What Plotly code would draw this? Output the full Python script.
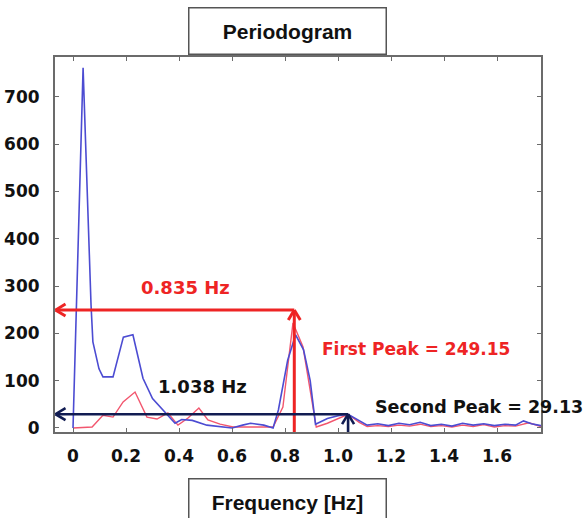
import plotly.graph_objects as go

# ---- data ----
blue_freq = [0.0, 0.038, 0.068, 0.075, 0.098, 0.113, 0.151, 0.19, 0.226, 0.264, 0.30, 0.34, 0.385,
             0.41, 0.45, 0.505, 0.55, 0.60, 0.64, 0.67, 0.72, 0.755, 0.775, 0.81, 0.84, 0.87,
             0.895, 0.915, 0.96, 1.0, 1.038, 1.07, 1.11, 1.15, 1.19, 1.23, 1.27, 1.31, 1.35,
             1.39, 1.43, 1.47, 1.51, 1.55, 1.59, 1.63, 1.67, 1.70, 1.73, 1.766]
blue_power = [0, 761, 260, 182, 125, 108, 108, 192, 197, 105, 62, 38, 10,
              18, 16, 6, 3, 0, 6, 10, 6, 0, 38, 143, 197, 165,
              100, 8, 20, 26, 29, 18, 6, 9, 5, 10, 7, 12, 5, 8, 4, 10, 6, 9, 5, 8, 6, 15, 9, 5]

red_freq = [0.0, 0.072, 0.113, 0.151, 0.189, 0.234, 0.279, 0.317, 0.358, 0.396, 0.434, 0.475,
            0.509, 0.555, 0.604, 0.65, 0.70, 0.755, 0.792, 0.83, 0.868, 0.89, 0.918,
            0.96, 1.0, 1.038, 1.08, 1.11, 1.15, 1.19, 1.23, 1.27, 1.31, 1.35, 1.39, 1.43,
            1.47, 1.51, 1.55, 1.59, 1.63, 1.67, 1.72, 1.766]
red_power = [0, 2, 27, 23, 55, 76, 23, 19, 32, 6, 21, 42,
             17, 8, 2, 2, 2, 2, 44, 222, 171, 100, 2,
             10, 20, 29, 12, 3, 5, 3, 6, 4, 8, 3, 5, 2, 6, 3, 7, 2, 5, 4, 11, 3]

first_peak_freq = 0.835
first_peak_value = 249.15
second_peak_freq = 1.038
second_peak_value = 29.13

x_tickvals = [0, 0.2, 0.4, 0.6, 0.8, 1.0, 1.2, 1.4, 1.6]
x_ticktext = ["0", "0.2", "0.4", "0.6", "0.8", "1.0", "1.2", "1.4", "1.6"]
y_tickvals = [0, 100, 200, 300, 400, 500, 600, 700]

# ---- layout geometry ----
W, H = 583, 518
ML, MR, MT, MB = 55, 42, 57, 86
XR = [-0.068, 1.766]
YR = [-8.5, 784]
pw, ph = W - ML - MR, H - MT - MB
dx = (XR[1] - XR[0]) / pw   # data per pixel
dy = (YR[1] - YR[0]) / ph

RED = "#ee2424"
NAVY = "#111c52"
BLUE_LINE = "#4c4cd2"
RED_LINE = "#f2566e"
FRAME = "#6b6b6b"
TICKFONT = dict(family="DejaVu Sans", size=17, color="#111111", weight="bold")
ANNFONT = "DejaVu Sans"

fig = go.Figure()
fig.add_trace(go.Scatter(x=red_freq, y=red_power, mode="lines",
                         line=dict(color=RED_LINE, width=1.4), showlegend=False))
fig.add_trace(go.Scatter(x=blue_freq, y=blue_power, mode="lines",
                         line=dict(color=BLUE_LINE, width=1.6), showlegend=False))

shapes = []


def seg(x0, y0, x1, y1, color, width):
    shapes.append(dict(type="line", xref="x", yref="y", x0=x0, y0=y0, x1=x1, y1=y1,
                       line=dict(color=color, width=width), layer="above"))


def left_arrow(xend, y, color, width):
    tip = XR[0] + 0.5 * dx
    seg(tip, y, xend, y, color, width)
    seg(tip, y, tip + 10 * dx, y + 6 * dy, color, width)
    seg(tip, y, tip + 10 * dx, y - 6 * dy, color, width)


def up_arrow(x, ytop, color, width):
    seg(x, YR[0], x, ytop, color, width)
    seg(x, ytop, x - 6 * dx, ytop - 10 * dy, color, width)
    seg(x, ytop, x + 6 * dx, ytop - 10 * dy, color, width)


left_arrow(first_peak_freq, first_peak_value, RED, 3)
up_arrow(first_peak_freq, first_peak_value, RED, 3)
left_arrow(second_peak_freq, second_peak_value, NAVY, 2.6)
up_arrow(second_peak_freq, second_peak_value, NAVY, 2.6)

annotations = [
    dict(text="0.835 Hz", x=0.426, y=296, xref="x", yref="y", showarrow=False,
         font=dict(family=ANNFONT, size=18, color=RED, weight="bold")),
    dict(text="First Peak = 249.15", x=1.294, y=167, xref="x", yref="y", showarrow=False,
         font=dict(family=ANNFONT, size=17, color=RED, weight="bold")),
    dict(text="1.038 Hz", x=0.487, y=87, xref="x", yref="y", showarrow=False,
         font=dict(family=ANNFONT, size=18, color="#111111", weight="bold")),
    dict(text="Second Peak = 29.13", x=1.532, y=44, xref="x", yref="y", showarrow=False,
         font=dict(family=ANNFONT, size=17.5, color="#111111", weight="bold")),
    dict(text="Periodogram", x=(287 - ML) / pw, y=(H - MB - 30.5) / ph,
         xref="paper", yref="paper", showarrow=False, xanchor="center", yanchor="middle",
         width=192, height=41, borderpad=2, borderwidth=1.5, bordercolor="#555555",
         bgcolor="white",
         font=dict(family="Liberation Sans", size=21, color="#111111", weight="bold")),
    dict(text="Frequency [Hz]", x=(287 - ML) / pw, y=(H - MB - 501.5) / ph,
         xref="paper", yref="paper", showarrow=False, xanchor="center", yanchor="middle",
         width=192, height=41, borderpad=2, borderwidth=1.5, bordercolor="#555555",
         bgcolor="white",
         font=dict(family="Liberation Sans", size=21, color="#111111", weight="bold")),
]

fig.update_layout(
    width=W, height=H,
    margin=dict(l=ML, r=MR, t=MT, b=MB, pad=0, autoexpand=False),
    paper_bgcolor="white", plot_bgcolor="white",
    shapes=shapes, annotations=annotations,
    xaxis=dict(range=XR, tickvals=x_tickvals, ticktext=x_ticktext, ticks="inside",
               ticklen=4, tickwidth=1.2, tickcolor=FRAME, showline=True, linecolor=FRAME,
               linewidth=2, mirror="ticks", showgrid=False, zeroline=False, automargin=False,
               tickfont=TICKFONT, ticklabelstandoff=8),
    yaxis=dict(range=YR, tickvals=y_tickvals, ticks="inside",
               ticklen=4, tickwidth=1.2, tickcolor=FRAME, showline=True, linecolor=FRAME,
               linewidth=2, mirror="ticks", showgrid=False, zeroline=False, automargin=False,
               tickfont=TICKFONT, ticklabelstandoff=10),
)

fig.write_html("out.html")
